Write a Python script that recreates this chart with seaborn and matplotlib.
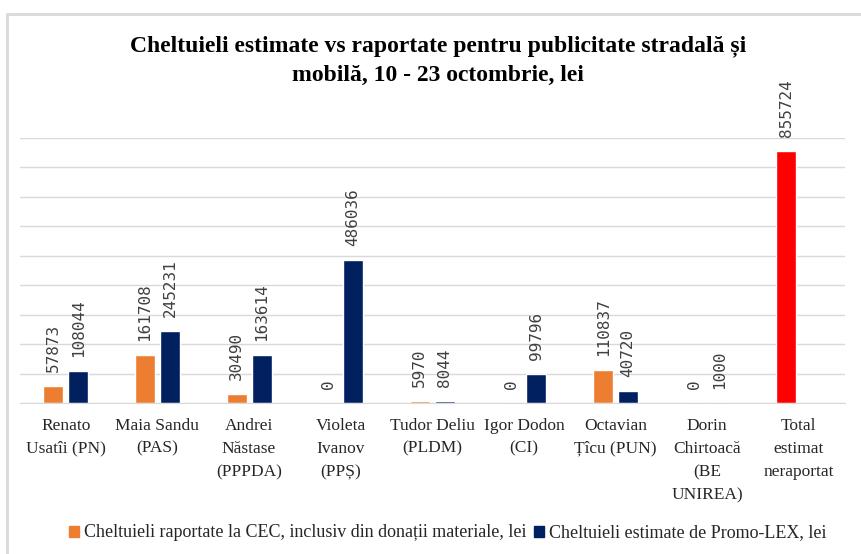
import numpy as np
import pandas as pd
import matplotlib
matplotlib.use("Agg")
import matplotlib.pyplot as plt
import seaborn as sns
from matplotlib.patches import Rectangle

# Data
candidates = ["Renato\nUsatîi (PN)", "Maia Sandu\n(PAS)", "Andrei\nNăstase\n(PPPDA)",
              "Violeta\nIvanov\n(PPȘ)", "Tudor Deliu\n(PLDM)", "Igor Dodon\n(CI)",
              "Octavian\nȚîcu (PUN)", "Dorin\nChirtoacă\n(BE\nUNIREA)", "Total\nestimat\nneraportat"]
reported = [57873, 161708, 30490, 0, 5970, 0, 110837, 0, 855724]
estimated = [108044, 245231, 163614, 486036, 8044, 99796, 40720, 1000, np.nan]
series_names = ["Cheltuieli raportate la CEC, inclusiv din donații materiale, lei",
                "Cheltuieli estimate de Promo-LEX, lei"]
colors = ["#ED7D31", "#002060"]
total_color = "#FF0000"

df = pd.DataFrame({
    "candidate": candidates * 2,
    "series": [series_names[0]] * len(candidates) + [series_names[1]] * len(candidates),
    "value": reported + estimated,
})

sns.set_style("white")
serif = ["Liberation Serif", "DejaVu Serif"]

fig = plt.figure(figsize=(8.61, 5.54), dpi=100)
ax = fig.add_axes([0.0232, 0.2726, 0.9578, 0.4784])

sns.barplot(data=df, x="candidate", y="value", hue="series", palette=colors,
            width=0.545, gap=0.2, ax=ax, errorbar=None, saturation=1)

# the total bar is drawn red
for bar, name in zip(ax.containers[0], candidates):
    if name.startswith("Total"):
        bar.set_facecolor(total_color)

# value labels above bars
for cont in ax.containers:
    for bar in cont:
        h = bar.get_height()
        if np.isnan(h):
            continue
        ax.annotate(f"{int(h)}", (bar.get_x() + bar.get_width() / 2, h),
                    xytext=(0, 10), textcoords="offset points", rotation=90,
                    ha="center", va="bottom", fontsize=11.5,
                    family="DejaVu Sans Mono", color="#404040")

ax.set_ylim(0, 900000)
ax.set_yticks(np.arange(0, 900001, 100000))
ax.set_yticklabels([])
ax.tick_params(axis="y", length=0)
ax.tick_params(axis="x", length=0, pad=10.5)
ax.yaxis.grid(True, color="#d9d9d9", linewidth=1)
ax.set_axisbelow(True)
for s in ["top", "right", "left"]:
    ax.spines[s].set_visible(False)
ax.spines["bottom"].set_color("#d9d9d9")
ax.set_xlabel("")
ax.set_ylabel("")
for lbl in ax.get_xticklabels():
    lbl.set_family(serif)
    lbl.set_fontsize(12.5)
    lbl.set_color("#262626")
    lbl.set_linespacing(1.6)

ax.legend_.remove()
handles = [plt.Rectangle((0, 0), 1, 1, color=c) for c in colors]
fig.legend(handles, series_names, loc="center", bbox_to_anchor=(0.52, 0.038),
           ncol=2, frameon=False, handlelength=0.55, handleheight=0.55,
           handletextpad=0.3, columnspacing=0.4,
           prop={"family": serif, "size": 13})

fig.text(0.509, 0.891, "Cheltuieli estimate vs raportate pentru publicitate stradală și\nmobilă, 10 - 23 octombrie, lei",
         ha="center", va="center", fontsize=17, fontweight="bold",
         family=serif, linespacing=1.5, color="#000000")

# outer chart border
fig.patches.append(Rectangle((7 / 861, -0.01), 1.0, 1 - 14 / 554 + 0.01,
                             transform=fig.transFigure, fill=False,
                             edgecolor="#d9d9d9", linewidth=2))

fig.savefig("out.png", dpi=100)
